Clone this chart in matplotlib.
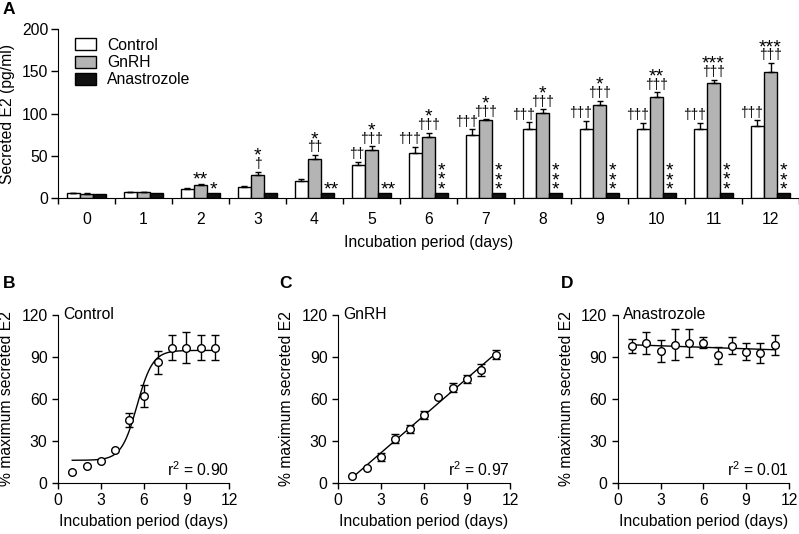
import matplotlib
matplotlib.use('Agg')
import matplotlib.pyplot as plt
import numpy as np

plt.rcParams['font.family'] = ['Liberation Sans', 'DejaVu Sans']
plt.rcParams['mathtext.fontset'] = 'custom'
plt.rcParams['mathtext.rm'] = 'Liberation Sans'
plt.rcParams['mathtext.it'] = 'Liberation Sans'
plt.rcParams['font.size'] = 11.3

# ---- panel A data (pg/ml) ----
days = list(range(13))
control = [5, 6.5, 10, 13, 20, 38.5, 53, 74, 82, 81.5, 82, 82, 85]
control_err = [0.5, 0.5, 1, 0.5, 2, 4, 7, 7, 7.5, 10, 7, 7, 7]
gnrh = [4.5, 6.5, 15.5, 27, 46.5, 57, 72, 92, 101, 110, 120, 136, 149]
gnrh_err = [0.5, 0.5, 1, 4, 4, 4, 5, 1, 4, 5, 5, 4, 11]
anastrozole = [4.5, 6, 6, 6, 6, 6, 6, 5.5, 5.5, 5.5, 5.5, 6, 5.5]

ctrl_daggers = ['', '', '', '', '', '††', '†††', '†††', '†††', '†††', '†††', '†††', '†††']
gnrh_daggers = ['', '', '', '†', '††', '†††', '†††', '†††', '†††', '†††', '†††', '†††', '†††']
gnrh_stars = ['', '', '**', '*', '*', '*', '*', '*', '*', '*', '**', '***', '***']
ana_stars = ['', '', '*', '', '**', '**', '*\n*\n*', '*\n*\n*', '*\n*\n*', '*\n*\n*',
             '*\n*\n*', '*\n*\n*', '*\n*\n*']

# ---- panels B-D data (% maximum) ----
x_days = [1, 2, 3, 4, 5, 6, 7, 8, 9, 10, 11]
pct_control = [8, 12, 15.5, 23.5, 44.5, 62, 86, 96.5, 96.5, 96.5, 96.5]
pct_control_err = [0, 0, 0, 0, 5, 8, 8, 9, 11, 9, 9]
pct_gnrh = [5, 10.5, 18.5, 31.5, 38.5, 48.5, 61, 68, 74, 80.5, 91.5]
pct_gnrh_err = [0, 0, 3, 3, 3, 3, 0, 3, 3, 4, 3]
pct_ana = [98, 100, 94, 98.5, 100, 100, 91, 98, 93.5, 92.5, 98.5]
pct_ana_err = [5, 8, 8, 11, 10, 4, 6, 6, 6, 7, 7]

# sigmoid (Boltzmann) fit parameters
sig_bottom, sig_top, sig_x50, sig_slope = 16.0, 94.5, 5.55, 0.55

W, H = 799, 534
fig = plt.figure(figsize=(W / 100, H / 100), dpi=100)


def px_axes(left, top, right, bottom):
    return fig.add_axes([left / W, 1 - bottom / H, (right - left) / W, (bottom - top) / H])


# ================= panel A =================
ax = px_axes(58, 29.3, 799, 197.7)
x = np.arange(len(days))
bw, off = 0.22, 0.23
kw = dict(edgecolor='black', linewidth=1.0, zorder=3)
ekw = dict(elinewidth=1.0, capthick=1.0)
ax.bar(x - off, control, bw, color='white', label='Control',
       yerr=[np.zeros(13), control_err], capsize=2.5, error_kw=ekw, **kw)
ax.bar(x, gnrh, bw, color='#b4b4b4', label='GnRH',
       yerr=[np.zeros(13), gnrh_err], capsize=2.5, error_kw=ekw, **kw)
ax.bar(x + off, anastrozole, bw, color='#111111', label='Anastrozole', **kw)

for i in x:
    ctop = control[i] + control_err[i]
    gtop = gnrh[i] + gnrh_err[i]
    atop = anastrozole[i]
    if ctrl_daggers[i]:
        ax.annotate(ctrl_daggers[i], (i - off, ctop), xytext=(4, 0.5), textcoords='offset points',
                    ha='right', va='bottom', fontsize=10)
    dy = 0.5
    if gnrh_daggers[i]:
        ax.annotate(gnrh_daggers[i], (i, gtop), xytext=(0, dy), textcoords='offset points',
                    ha='center', va='bottom', fontsize=10)
        dy += 8.5
    if gnrh_stars[i]:
        ax.annotate(gnrh_stars[i], (i, gtop), xytext=(0, dy - 4), textcoords='offset points',
                    ha='center', va='bottom', fontsize=14)
    s = ana_stars[i]
    if '\n' in s:
        ax.annotate(s, (i + off, atop), xytext=(0, -4), textcoords='offset points',
                    ha='center', va='bottom', fontsize=14, linespacing=0.42)
    elif s:
        ax.annotate(s, (i + off + 0.06 * (len(s) - 1), atop), xytext=(0, -4), textcoords='offset points',
                    ha='center', va='bottom', fontsize=14)

ax.set_xlim(-0.5, 12.5)
ax.set_ylim(0, 200)
ax.set_yticks([0, 50, 100, 150, 200])
ax.set_xticks(x)
ax.set_xticklabels([str(d) for d in days])
ax.set_xticks(np.arange(-0.5, 13, 1), minor=True)
ax.tick_params(axis='x', which='major', length=0, pad=10)
ax.tick_params(axis='x', which='minor', length=4, width=1, direction='out')
ax.tick_params(axis='y', length=5, width=1, pad=2)
for sp in ['top', 'right']:
    ax.spines[sp].set_visible(False)
ax.set_ylabel('Secreted E2 (pg/ml)')
ax.yaxis.set_label_coords(-0.058, 0.5)
ax.set_xlabel('Incubation period (days)', labelpad=6)
ax.legend(loc='upper left', bbox_to_anchor=(0.023, 0.95), frameon=False, borderpad=0,
          borderaxespad=0, handlelength=1.35, handleheight=0.8, handletextpad=0.7,
          labelspacing=0.15)
fig.text(3 / W, 1 - 10 / H, 'A', fontsize=12.5, fontweight='bold', va='center', ha='left')

# ================= panels B-D =================
panels = [
    (58, 229, 3, 'B', 'Control', pct_control, pct_control_err, 'r$^{2}$ = 0.90', 'sigmoid'),
    (338, 510, 279, 'C', 'GnRH', pct_gnrh, pct_gnrh_err, 'r$^{2}$ = 0.97', 'linear'),
    (617.7, 789, 561, 'D', 'Anastrozole', pct_ana, pct_ana_err, 'r$^{2}$ = 0.01', 'linear'),
]
for left, right, lx, letter, name, vals, errs, r2, fit in panels:
    bx = px_axes(left, 314.7, right, 482.7)
    xd = np.array(x_days, dtype=float)
    if fit == 'sigmoid':
        xf = np.linspace(1, 11, 200)
        yf = sig_bottom + (sig_top - sig_bottom) / (1 + np.exp((sig_x50 - xf) / sig_slope))
    else:
        coef = np.polyfit(xd, vals, 1)
        xf = np.array([1, 11])
        yf = np.polyval(coef, xf)
    bx.plot(xf, yf, color='black', lw=1.0, zorder=2)
    bx.errorbar(xd, vals, yerr=errs, fmt='o', mfc='white', mec='black', ms=5.5, mew=1.0,
                ecolor='black', elinewidth=1.0, capsize=3, capthick=1.0, zorder=3)
    bx.set_xlim(0, 12)
    bx.set_ylim(0, 120)
    bx.set_xticks([0, 3, 6, 9, 12])
    bx.set_yticks([0, 30, 60, 90, 120])
    bx.tick_params(length=4, width=1, pad=3.5)
    for sp in ['top', 'right']:
        bx.spines[sp].set_visible(False)
    bx.set_xlabel('Incubation period (days)', labelpad=4)
    bx.set_ylabel('% maximum secreted E2')
    bx.yaxis.set_label_coords(-0.255, 0.5)
    bx.text(0.03, 1.0, name, transform=bx.transAxes, ha='left', va='center')
    bx.text(1.0, 0.08, r2, transform=bx.transAxes, ha='right', va='center')
    fig.text(lx / W, 1 - 284 / H, letter, fontsize=12.5, fontweight='bold',
             va='center', ha='left')

fig.savefig('out.png', dpi=100)
